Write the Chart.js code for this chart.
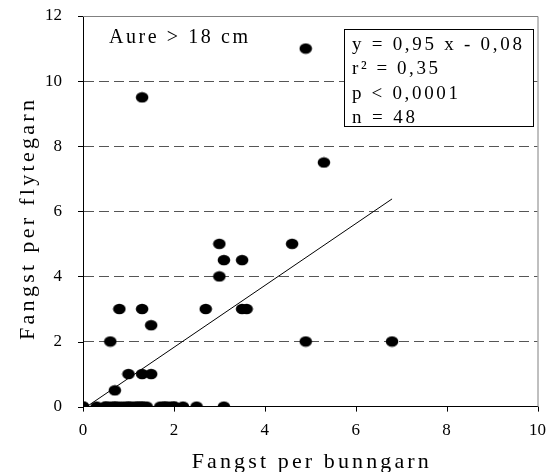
<!DOCTYPE html>
<html>
<head>
<meta charset="utf-8">
<script src="https://cdn.jsdelivr.net/npm/chart.js@4"></script>
<style>
  body { margin: 0; background: #fff; }
  #wrap { width: 555px; height: 472px; }
</style>
</head>
<body>
<div id="wrap"><canvas id="graf" width="555" height="472"></canvas></div>
<script>
// fangst per bunngarn (x) og per flytegarn (y), lest av figuren
const bunngarn = [
  0, 0, 0.3, 0.5, 0.6, 0.7, 0.8, 0.9, 1.0, 1.1, 1.2, 1.3, 1.3, 1.4,
  1.7, 1.8, 1.9, 2.0, 2.2, 2.5, 3.1, 0.5, 1.0, 1.2, 1.8, 0.7, 2.0,
  0.7, 1.0, 1.3, 1.5, 0.6, 4.9, 6.8, 1.5,
  0.8, 1.3, 2.7, 3.5, 3.6, 3.0, 3.1, 3.5, 3.0, 4.6, 5.3, 1.3, 4.9
];
const flytegarn = [
  0, 0, 0, 0, 0, 0, 0, 0, 0, 0, 0, 0, 0, 0,
  0, 0, 0, 0, 0, 0, 0, 0, 0, 0, 0, 0, 0,
  0.5, 1, 1, 1, 2, 2, 2, 2.5,
  3, 3, 3, 3, 3, 4, 4.5, 4.5, 5, 5, 7.5, 9.5, 11
];
// regresjonslinje y = 0,95 x - 0,08
const linjeX = [0, 6.8];
const linjeY = [-0.08, 6.38];
const yTicks = [0, 2, 4, 6, 8, 10, 12];
const xTicks = [0, 2, 4, 6, 8, 10];
const statTekst = ["y = 0,95 x - 0,08", "r\u00b2 = 0,35", "p < 0,0001", "n = 48"];
const xTittel = "Fangst per bunngarn";
const yTittel = "Fangst per flytegarn";
const merknad = "Aure > 18 cm";

const punkter = bunngarn.map((x, i) => ({ x: x, y: flytegarn[i] }));
const linje = linjeX.map((x, i) => ({ x: x, y: linjeY[i] }));

// ellipseformet markør
const prikk = document.createElement("canvas");
prikk.width = 14; prikk.height = 12;
const pc = prikk.getContext("2d");
pc.fillStyle = "#000";
pc.beginPath();
pc.ellipse(7, 6, 6.3, 5.2, 0, 0, Math.PI * 2);
pc.fill();

const serif = "'Liberation Serif', 'Times New Roman', serif";

// tekst med sperring slik at den får ønsket bredde
function sperretTekst(ctx, tekst, x, y, font, bredde, align) {
  ctx.font = font;
  ctx.letterSpacing = "0px";
  const w = ctx.measureText(tekst).width;
  const ls = Math.max(0, (bredde - w) / (tekst.length - 1));
  ctx.letterSpacing = ls + "px";
  let x0 = x;
  if (align === "center") x0 = x - bredde / 2;
  ctx.textAlign = "left";
  ctx.fillText(tekst, x0, y);
}

const rammePlugin = {
  id: "ramme",
  afterDatasetsDraw(chart) {
    const { ctx, chartArea: a, scales } = chart;
    ctx.save();
    ctx.strokeStyle = "#808080";
    ctx.lineWidth = 1;
    ctx.beginPath();
    ctx.moveTo(a.left, a.top + 0.5);
    ctx.lineTo(a.right + 0.5, a.top + 0.5);
    ctx.lineTo(a.right + 0.5, a.bottom);
    ctx.stroke();

    // tikkstreker utenfor aksene
    ctx.strokeStyle = "#000";
    ctx.beginPath();
    yTicks.forEach(v => {
      const py = Math.round(scales.y.getPixelForValue(v)) + 0.5;
      ctx.moveTo(a.left - 5, py);
      ctx.lineTo(a.left, py);
    });
    xTicks.forEach(v => {
      const px = Math.round(scales.x.getPixelForValue(v)) + 0.5;
      ctx.moveTo(px, a.bottom);
      ctx.lineTo(px, a.bottom + 5);
    });
    ctx.stroke();

    ctx.fillStyle = "#000";
    ctx.textBaseline = "alphabetic";
    sperretTekst(ctx, merknad, 109, 43, "20px " + serif, 139, "left");

    // statistikkboks
    const bx = 344, by = 29, bw = 189, bh = 97;
    ctx.fillStyle = "#fff";
    ctx.fillRect(bx, by, bw, bh);
    ctx.strokeStyle = "#000";
    ctx.strokeRect(bx + 0.5, by + 0.5, bw, bh);
    ctx.fillStyle = "#000";
    const bredder = [170, 86, 106, 63];
    statTekst.forEach((t, i) => sperretTekst(ctx, t, 352, by + 21 + i * 24.3, "19px " + serif, bredder[i], "left"));

    // aksetitler
    sperretTekst(ctx, xTittel, (a.left + a.right) / 2, 468, "22px " + serif, 237, "center");
    ctx.translate(34, 220);
    ctx.rotate(-Math.PI / 2);
    sperretTekst(ctx, yTittel, 0, 0, "22px " + serif, 240, "center");
    ctx.restore();
  }
};

new Chart(document.getElementById("graf"), {
  type: "scatter",
  data: {
    datasets: [
      {
        data: punkter,
        pointStyle: prikk,
        pointRadius: 6,
        pointHoverRadius: 6
      },
      {
        type: "line",
        data: linje,
        borderColor: "#000",
        borderWidth: 1,
        pointRadius: 0,
        fill: false
      }
    ]
  },
  options: {
    responsive: false,
    animation: false,
    layout: { autoPadding: false, padding: { top: 16, right: 14, left: 40, bottom: 22 } },
    plugins: { legend: { display: false }, tooltip: { enabled: false } },
    scales: {
      x: {
        type: "linear",
        min: 0, max: 10,
        afterBuildTicks: s => { s.ticks = xTicks.map(v => ({ value: v })); },
        border: { color: "#000", width: 1 },
        grid: { drawOnChartArea: false, drawTicks: true, color: "rgba(0,0,0,0)", tickLength: 5 },
        ticks: { color: "#000", font: { family: serif, size: 17 }, padding: 9, maxRotation: 0 }
      },
      y: {
        type: "linear",
        min: 0, max: 12,
        afterBuildTicks: s => { s.ticks = yTicks.map(v => ({ value: v })); },
        border: { color: "#000", width: 1, dash: [10, 5] },
        grid: {
          color: c => (c.tick.value === 0 || c.tick.value === 12) ? "rgba(0,0,0,0)" : "#555",
          tickColor: "rgba(0,0,0,0)",
          tickLength: 16,
          lineWidth: 1
        },
        ticks: { color: "#000", font: { family: serif, size: 17 }, padding: 5 }
      }
    }
  },
  plugins: [rammePlugin]
});
</script>
</body>
</html>
